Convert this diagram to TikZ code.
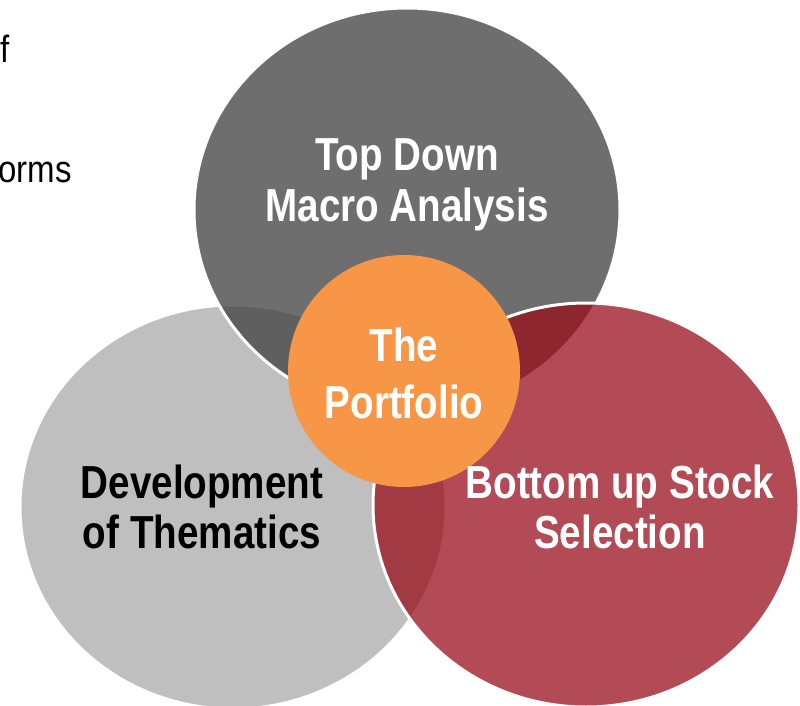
\documentclass[tikz,border=0pt]{standalone}
\usepackage{fontspec}
\setmainfont{Liberation Sans}
\definecolor{lightdisc}{RGB}{191,191,191}
\definecolor{darkdisc}{RGB}{65,65,65}
\definecolor{reddisc}{RGB}{151,12,25}
\definecolor{orangedisc}{RGB}{247,150,70}
\begin{document}
\begin{tikzpicture}[x=1pt,y=-1pt,
  disc/.style={draw=white, line width=3pt},
  bigtext/.style={font=\bfseries\fontsize{38.6}{42}\selectfont, align=center, inner sep=0pt, yscale=1.2, transform shape},
  coretext/.style={bigtext, font=\bfseries\fontsize{38.6}{47.5}\selectfont},
  sidetext/.style={font=\fontsize{33}{40}\selectfont, inner sep=0pt, anchor=base east, yscale=1.15, transform shape}]
\useasboundingbox (0,0) rectangle (800,706);
% three overlapping discs, drawn bottom to top
\path[disc, fill=lightdisc] (233,507) ellipse [x radius=213, y radius=202];
\path[disc, fill=darkdisc, fill opacity=0.76] (407,210) ellipse [x radius=213, y radius=202];
\path[disc, fill=reddisc, fill opacity=0.74] (586,505) ellipse [x radius=213, y radius=202];
% centre disc
\path[fill=orangedisc] (404,371) circle [radius=116];
% label positions
\coordinate (ptop) at (407,185);
\coordinate (pcore) at (404,373);
\coordinate (pleft) at (202,507);
\coordinate (pright) at (620,507);
\coordinate (pfrag1) at (10,63);
\coordinate (pfrag2) at (72,182);
% labels
\node[bigtext, text=white] (top) at (ptop) {Top Down\\Macro Analysis};
\node[coretext, text=white] (core) at (pcore) {The\\Portfolio};
\node[bigtext, text=black] (left) at (pleft) {Development\\of Thematics};
\node[bigtext, text=white] (right) at (pright) {Bottom up Stock\\Selection};
% text running in from the left
\node[sidetext] (frag1) at (pfrag1) {f};
\node[sidetext] (frag2) at (pfrag2) {orms};
\end{tikzpicture}
\end{document}
